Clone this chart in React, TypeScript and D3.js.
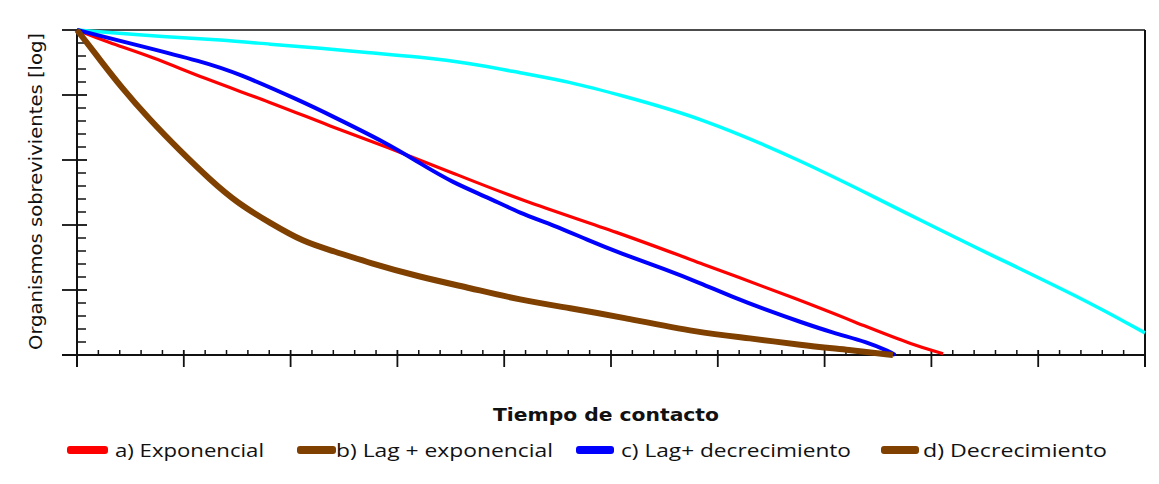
import React from "react";
import * as d3 from "d3";

// ---- data (x: contact time units, y: log survivors) ----
const expX = [0, 0.28, 0.71, 1.18, 1.81, 2.37, 2.9, 3.52, 4.15, 5.08, 5.83, 6.77, 7.4, 7.83, 8.11];
const expY = [5.0, 4.815, 4.585, 4.26, 3.89, 3.52, 3.2, 2.8, 2.385, 1.88, 1.415, 0.846, 0.43, 0.154, 0.02];

const lagDecX = [0, 0.12, 0.56, 1.18, 1.5, 2.12, 2.37, 2.9, 3.21, 3.52, 3.84, 4.15, 4.46, 4.78, 5.08, 5.52, 5.83, 6.14, 6.46, 6.77, 7.08, 7.4, 7.61, 7.66];
const lagDecY = [5.0, 4.95, 4.77, 4.51, 4.34, 3.89, 3.69, 3.26, 2.95, 2.65, 2.43, 2.18, 2.0, 1.77, 1.57, 1.31, 1.11, 0.89, 0.69, 0.51, 0.34, 0.2, 0.05, 0.0];

const decX = [0, 0.24, 0.4, 0.68, 0.96, 1.25, 1.5, 1.81, 2.12, 2.4, 2.74, 3.21, 3.68, 4.15, 4.62, 5.08, 5.83, 6.3, 6.77, 7.24, 7.64];
const decY = [5.0, 4.49, 4.15, 3.62, 3.15, 2.69, 2.34, 2.03, 1.74, 1.6, 1.415, 1.2, 1.03, 0.846, 0.72, 0.585, 0.34, 0.26, 0.154, 0.077, 0.0];

const lagExpX = [0, 0.87, 1.34, 1.81, 2.28, 2.74, 3.21, 3.68, 4.15, 4.62, 5.08, 5.83, 6.77, 7.52, 7.89, 8.46, 9.39, 10];
const lagExpY = [5.0, 4.89, 4.85, 4.78, 4.72, 4.65, 4.585, 4.49, 4.34, 4.2, 4.0, 3.66, 3.0, 2.385, 2.08, 1.615, 0.89, 0.34];

const legendLabels = ["a) Exponencial", "b) Lag + exponencial", "c) Lag+ decrecimiento", "d) Decrecimiento"];
const legendColors = ["#ff0000", "#7f4000", "#0000ff", "#7f4000"];
const xTitle = "Tiempo de contacto";
const yTitle = "Organismos sobrevivientes [log]";

const W = 1159;
const H = 484;
const M = { left: 77, right: 1145, top: 30, bottom: 355 };

export default function App() {
  const x = d3.scaleLinear().domain([0, 10]).range([M.left, M.right]);
  const y = d3.scaleLinear().domain([0, 5]).range([M.bottom, M.top]);
  const line = d3
    .line<[number, number]>()
    .x((d) => x(d[0]))
    .y((d) => y(d[1]))
    .curve(d3.curveBasis);
  const zip = (a: number[], b: number[]) => a.map((v, i) => [v, b[i]] as [number, number]);

  const series = [
    { pts: zip(lagExpX, lagExpY), color: "#00ffff", w: 3.5 },
    { pts: zip(expX, expY), color: "#ff0000", w: 3.2 },
    { pts: zip(lagDecX, lagDecY), color: "#0000ff", w: 4 },
    { pts: zip(decX, decY), color: "#7f4000", w: 6 },
  ];

  const xMajor = d3.range(0, 11);
  const xMinor = d3.range(0, 50).map((i) => i * 0.2).filter((v) => Math.abs(v - Math.round(v)) > 1e-6);
  const yMajor = d3.range(0, 6);
  const yMinor = d3.range(0, 25).map((i) => i * 0.2).filter((v) => Math.abs(v - Math.round(v)) > 1e-6);

  const legendSwatch = [[67, 108], [297, 336], [576, 614], [881, 919]];
  const legendText = [[115, 149], [336, 217], [621, 230], [923, 184]];

  return (
    <div style={{ position: "absolute", left: 0, top: 0 }}>
      <svg width={W} height={H} style={{ display: "block", background: "#fff" }}>
        {/* frame */}
        <line x1={M.left} x2={M.right} y1={M.top} y2={M.top} stroke="#111" strokeWidth={1.6} />
        <line x1={M.right} x2={M.right} y1={M.top} y2={M.bottom + 12} stroke="#111" strokeWidth={2} />
        {/* axes */}
        <line x1={M.left - 15} x2={M.right} y1={M.bottom} y2={M.bottom} stroke="#111" strokeWidth={2} />
        <line x1={M.left} x2={M.left} y1={M.top} y2={M.bottom + 12} stroke="#111" strokeWidth={2} />
        {yMajor.map((v) => (
          <line key={"ym" + v} x1={M.left - 15} x2={M.left + 10} y1={y(v)} y2={y(v)} stroke="#111" strokeWidth={1.8} />
        ))}
        {yMinor.map((v) => (
          <line key={"yn" + v} x1={M.left} x2={M.left + 9} y1={y(v)} y2={y(v)} stroke="#111" strokeWidth={1.5} />
        ))}
        {xMajor.map((v) => (
          <line key={"xm" + v} x1={x(v)} x2={x(v)} y1={M.bottom - 5} y2={M.bottom + 12} stroke="#111" strokeWidth={1.8} />
        ))}
        {xMinor.map((v) => (
          <line key={"xn" + v} x1={x(v)} x2={x(v)} y1={M.bottom - 5} y2={M.bottom} stroke="#111" strokeWidth={1.5} />
        ))}
        {/* curves */}
        {series.map((s, i) => (
          <path key={i} d={line(s.pts) || ""} fill="none" stroke={s.color} strokeWidth={s.w} strokeLinejoin="round" strokeLinecap="butt" />
        ))}
        {/* titles */}
        <text
          x={493}
          y={421}
          fontFamily="DejaVu Sans, Verdana, sans-serif"
          fontWeight="bold"
          fontSize={17}
          fill="#111"
          textLength={226}
          lengthAdjust="spacingAndGlyphs"
        >
          {xTitle}
        </text>
        <text
          transform="translate(42,350) rotate(-90)"
          x={0}
          y={0}
          fontFamily="DejaVu Sans, Verdana, sans-serif"
          fontSize={17}
          fill="#111"
          textLength={317}
          lengthAdjust="spacingAndGlyphs"
        >
          {yTitle}
        </text>
        {/* legend */}
        {legendLabels.map((lab, i) => (
          <g key={lab}>
            <rect
              x={legendSwatch[i][0]}
              y={446}
              width={legendSwatch[i][1] - legendSwatch[i][0]}
              height={8}
              rx={3}
              fill={legendColors[i]}
            />
            <text
              x={legendText[i][0]}
              y={457}
              fontFamily="Open Sans, sans-serif"
              fontSize={19}
              fill="#111"
              textLength={legendText[i][1]}
              lengthAdjust="spacingAndGlyphs"
            >
              {lab}
            </text>
          </g>
        ))}
      </svg>
    </div>
  );
}
